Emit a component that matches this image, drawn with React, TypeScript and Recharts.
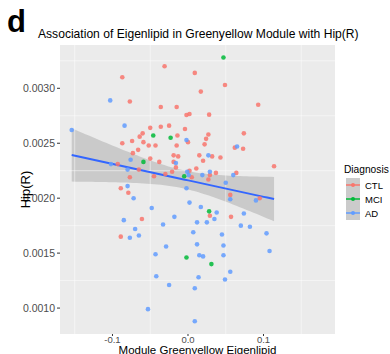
import React from 'react'
import {
  ComposedChart,
  Scatter,
  Line,
  Area,
  XAxis,
  YAxis,
  CartesianGrid,
  ReferenceLine,
} from 'recharts'

// values (x = eigenlipid, y = Hip(R))
const ctlX = [
  -0.031, -0.087, -0.077, -0.036, -0.015, 0.002, -0.002, 0.009, 0.049, 0.017, 0.093,
  0.028, -0.004, -0.025, -0.036, -0.050, -0.060, -0.064, -0.014, 0.074, 0.027, 0.024,
  -0.074, 0.0, -0.087, -0.059, -0.052, -0.043, -0.015, 0.022, 0.062, 0.073, -0.066,
  -0.073, -0.019, -0.013, 0.015, 0.032, 0.043, -0.050, -0.038, -0.019, 0.020, -0.093,
  0.114, -0.016, 0.011, -0.065, 0.002, -0.021, -0.030, 0.037, 0.064, -0.045, -0.077,
  0.005, 0.029, 0.027, -0.089, -0.079, 0.056, 0.095, -0.061, -0.089, 0.029, 0.057,
]
const ctlY = [
  0.0032, 0.0031, 0.00288, 0.00283, 0.00283, 0.002766, 0.002757, 0.00314, 0.00303, 0.00297,
  0.00285, 0.00276, 0.00263, 0.00266, 0.00265, 0.00264, 0.00259, 0.00256, 0.00257, 0.00259,
  0.00258, 0.00254, 0.00252, 0.00251, 0.0025, 0.00251, 0.00248, 0.00248, 0.00248, 0.00249,
  0.00246, 0.00245, 0.00244, 0.00241, 0.00239, 0.00238, 0.00239, 0.00238, 0.00237, 0.00236,
  0.00233, 0.00233, 0.00234, 0.00231, 0.00229, 0.00228, 0.00227, 0.00226, 0.00225, 0.00224,
  0.00222, 0.00223, 0.00223, 0.0022, 0.00219, 0.00219, 0.00221, 0.00217, 0.00209, 0.00205,
  0.00203, 0.002, 0.00181, 0.00165, 0.00184, 0.00183,
]
const mciX = [0.047, -0.046, -0.023, -0.059, -0.005, 0.028, -0.002, 0.031]
const mciY = [0.00328, 0.00257, 0.00255, 0.00233, 0.0022, 0.00188, 0.00146, 0.0014]
const adX = [
  -0.154, -0.103, -0.084, -0.002, 0.065, 0.027, -0.076, -0.016, -0.102, -0.08, -0.001,
  0.029, 0.001, 0.019, 0.06, 0.05, -0.08, -0.002, -0.072, 0.056, 0.09, 0.002, 0.017,
  -0.048, 0.038, 0.074, -0.018, 0.035, -0.085, 0.012, 0.025, -0.033, 0.07, 0.082, -0.07,
  0.007, 0.045, 0.104, -0.065, -0.077, 0.012, 0.047, -0.029, 0.108, -0.043, 0.015, 0.02,
  0.047, 0.056, -0.042, 0.014, 0.049, -0.025, 0.009, -0.053, 0.009,
]
const adY = [
  0.00262, 0.00289, 0.00266, 0.00253, 0.00247, 0.00239, 0.00235, 0.00232, 0.00231, 0.00226,
  0.00224, 0.00224, 0.00221, 0.00221, 0.00221, 0.00214, 0.00211, 0.00209, 0.002, 0.00199,
  0.00198, 0.00196, 0.00192, 0.00191, 0.00187, 0.00186, 0.00183, 0.00181, 0.0018, 0.00178,
  0.00178, 0.00176, 0.00175, 0.00174, 0.00172, 0.00169, 0.00167, 0.00168, 0.00166, 0.00164,
  0.00158, 0.00157, 0.00156, 0.00152, 0.00149, 0.00148, 0.00147, 0.00148, 0.00133, 0.00129,
  0.00128, 0.00126, 0.00121, 0.00118, 0.00099, 0.00088,
]

const groups = ['CTL', 'MCI', 'AD']
const colors = ['#F8766D', '#00BA38', '#619CFF']
const xTicks = [-0.1, 0, 0.1]
const xMinor = [-0.15, -0.05, 0.05, 0.15]
const yTicks = [0.001, 0.0015, 0.002, 0.0025, 0.003]
const yMinor = [0.00125, 0.00175, 0.00225, 0.00275, 0.00325]

const toPts = (xs: number[], ys: number[]) => xs.map((x, i) => ({ x, y: ys[i] }))
const ctl = toPts(ctlX, ctlY)
const mci = toPts(mciX, mciY)
const ad = toPts(adX, adY)

// lm fit with 95% confidence band, like geom_smooth(method = 'lm')
const all = [...ctl, ...mci, ...ad]
const n = all.length
const xbar = all.reduce((s, p) => s + p.x, 0) / n
const ybar = all.reduce((s, p) => s + p.y, 0) / n
const sxx = all.reduce((s, p) => s + (p.x - xbar) ** 2, 0)
const sxy = all.reduce((s, p) => s + (p.x - xbar) * (p.y - ybar), 0)
const slope = sxy / sxx
const icpt = ybar - slope * xbar
const sse = all.reduce((s, p) => s + (p.y - icpt - slope * p.x) ** 2, 0)
const sigma = Math.sqrt(sse / (n - 2))
const tq = 1.979
const xMin = Math.min(...all.map((p) => p.x))
const xMax = Math.max(...all.map((p) => p.x))
const fit = Array.from({ length: 60 }, (_, i) => {
  const x = xMin + ((xMax - xMin) * i) / 59
  const y = icpt + slope * x
  const se = sigma * Math.sqrt(1 / n + (x - xbar) ** 2 / sxx)
  return { x, y, band: [y - tq * se, y + tq * se] }
})

const Dot = (color: string) => (props: any) => (
  <circle cx={props.cx} cy={props.cy} r={2.3} fill={color} fillOpacity={0.85} />
)

const font = '"Liberation Sans", Arial, sans-serif'

export default function App() {
  return (
    <div style={{ position: 'absolute', left: 0, top: 0, width: 390, height: 354, background: '#fff', fontFamily: font, overflow: 'hidden' }}>
      <div style={{ position: 'absolute', left: 7, top: 4, fontSize: 31, fontWeight: 'bold', color: '#000' }}>d</div>
      <div style={{ position: 'absolute', left: 38, top: 27, fontSize: 12.1, color: '#000', whiteSpace: 'nowrap' }}>
        Association of Eigenlipid in Greenyellow Module with Hip(R)
      </div>
      <ComposedChart width={390} height={354} margin={{ top: 45, right: 55, bottom: 0, left: 0 }}>
        <rect x={60} y={45} width={275} height={289} fill="#EBEBEB" />
        <CartesianGrid stroke="#fff" strokeWidth={1.1} fill="#EBEBEB" />
        {xMinor.map((v) => (
          <ReferenceLine key={'xm' + v} x={v} stroke="#fff" strokeWidth={0.5} />
        ))}
        {yMinor.map((v) => (
          <ReferenceLine key={'ym' + v} y={v} stroke="#fff" strokeWidth={0.5} />
        ))}
        <XAxis
          type="number"
          dataKey="x"
          domain={[-0.1695, 0.1947]}
          ticks={xTicks}
          tickFormatter={(v: number) => v.toFixed(1)}
          allowDataOverflow
          axisLine={false}
          tickSize={2}
          tickMargin={0}
          tickLine={{ stroke: '#333' }}
          tick={{ fill: '#4D4D4D', fontSize: 9.5, fontFamily: font }}
          height={20}
        />
        <YAxis
          type="number"
          dataKey="y"
          domain={[0.000764, 0.003394]}
          ticks={yTicks}
          tickFormatter={(v: number) => v.toFixed(4)}
          allowDataOverflow
          axisLine={false}
          tickSize={3}
          tickLine={{ stroke: '#333' }}
          tick={{ fill: '#4D4D4D', fontSize: 10.5, fontFamily: font }}
          width={60}
          label={{ value: 'Hip(R)', angle: -90, position: 'insideLeft', offset: 25, fill: '#000', fontSize: 13, fontFamily: font, style: { textAnchor: 'middle' } }}
        />
        <Scatter data={ctl} shape={Dot(colors[0])} isAnimationActive={false} />
        <Scatter data={mci} shape={Dot(colors[1])} isAnimationActive={false} />
        <Scatter data={ad} shape={Dot(colors[2])} isAnimationActive={false} />
        <Area data={fit} dataKey="band" stroke="none" fill="#999999" fillOpacity={0.4} isAnimationActive={false} />
        <Line data={fit} dataKey="y" stroke="#3366FF" strokeWidth={2} dot={false} isAnimationActive={false} />
      </ComposedChart>
      <div style={{ position: 'absolute', left: 60, width: 275, top: 345, textAlign: 'center', fontSize: 11.5, color: '#000', whiteSpace: 'nowrap', lineHeight: '11px' }}>
        Module Greenyellow Eigenlipid
      </div>
      <div style={{ position: 'absolute', left: 344, top: 164, fontSize: 10.2, color: '#000', whiteSpace: 'nowrap' }}>Diagnosis</div>
      {groups.map((g, i) => (
        <div key={g} style={{ position: 'absolute', left: 346, top: 178 + i * 14, height: 14, display: 'flex', alignItems: 'center' }}>
          <svg width={14} height={14}>
            <rect width={14} height={14} fill="#CBCBCB" />
            <line x1={0} x2={14} y1={7} y2={7} stroke={colors[i]} strokeWidth={1.5} />
            <circle cx={7} cy={7} r={2} fill={colors[i]} />
          </svg>
          <span style={{ marginLeft: 5, fontSize: 9.5, color: '#000' }}>{g}</span>
        </div>
      ))}
    </div>
  )
}
